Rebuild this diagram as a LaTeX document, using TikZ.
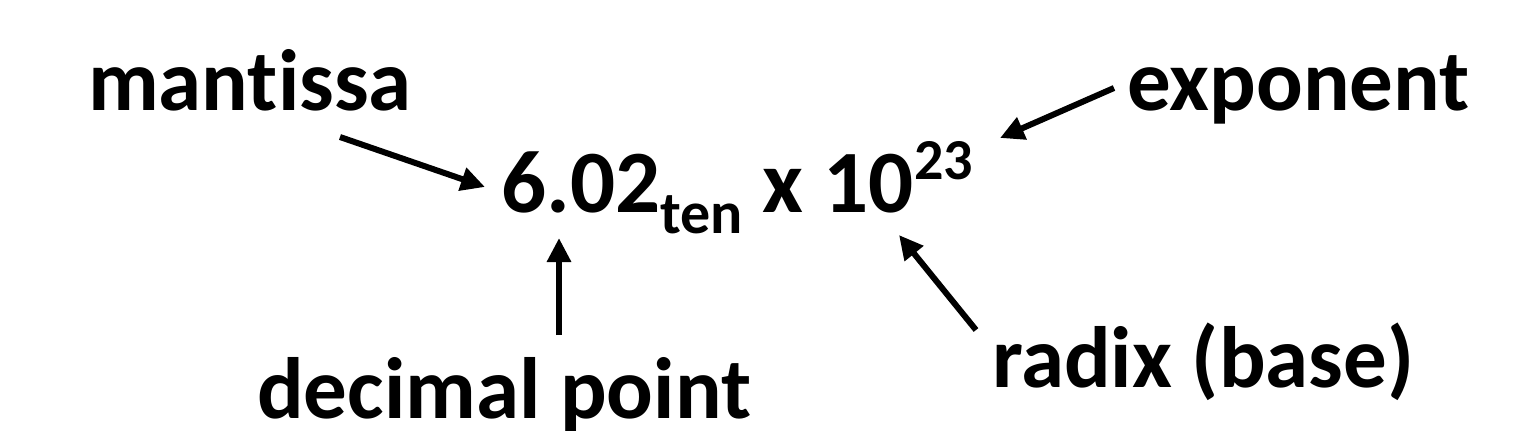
\documentclass[tikz,border=0pt]{standalone}
\usepackage{fontspec}
\setmainfont{Carlito}[Ligatures=NoCommon]
\usetikzlibrary{arrows.meta,positioning}
\tikzset{
  lbl/.style={inner sep=0pt, anchor=base west, font=\fontsize{87}{92}\selectfont\bfseries},
  arr/.style={line width=6pt, -{Triangle[length=24pt,width=23pt]}}
}
\begin{document}
\begin{tikzpicture}[x=1pt,y=-1pt]
\useasboundingbox (0,0) rectangle (1526,431);
% labels
\node[lbl] (mant) at (88,110) {mantissa};
\node[lbl] (expo) at (1127,110) {exponent};
\node[lbl] (dec) at (257,418) {decimal point};
\node[lbl] (radix) at (992,387) {radix (base)};
% the number
\node[lbl, font=\fontsize{89}{92}\selectfont\bfseries] (num) at (501,212)
  {6.02\raisebox{-21pt}{\fontsize{60}{60}\selectfont ten} x 10\raisebox{33pt}{\fontsize{58}{58}\selectfont 23}};
% arrow ends
\coordinate (mantTail) at (340,137);
\coordinate (mantTip) at (485,187);
\coordinate (expoTail) at (1114,88);
\coordinate (expoTip) at (1000,138);
\coordinate (decTail) at (559,335);
\coordinate (decTip) at (559,238);
\coordinate (radixTail) at (976,330);
\coordinate (radixTip) at (899,235);
\draw[arr] (mantTail) -- (mantTip);
\draw[arr] (expoTail) -- (expoTip);
\draw[arr] (decTail) -- (decTip);
\draw[arr] (radixTail) -- (radixTip);
\end{tikzpicture}
\end{document}
